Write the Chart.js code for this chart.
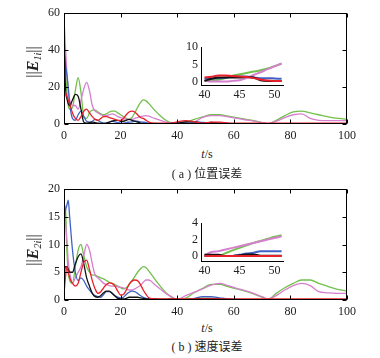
<!DOCTYPE html>
<html>
<head>
<meta charset="utf-8">
<script src="https://cdn.jsdelivr.net/npm/chart.js@4.4.0/dist/chart.umd.min.js"></script>
<style>
body { margin: 0; background: #fff; width: 380px; height: 358px; position: relative; overflow: hidden;
       font-family: "Liberation Serif", "Times New Roman", "DejaVu Serif", serif; color: #222; }
canvas { position: absolute; }
.lbl { position: absolute; white-space: nowrap; }
.ytitle { font-size: 16px; transform: translate(-50%, -50%) rotate(-90deg); }
.ytitle sub { font-size: 10px; font-style: italic; vertical-align: -3px; }
.tlabel { font-size: 12px; transform: translateX(-50%); }
.cap { font-size: 12px; transform: translateX(-50%); }
.cap span { font-family: "Noto Sans CJK SC", sans-serif; }
</style>
</head>
<body>
<canvas id="posMain" width="380" height="145" style="left:0;top:0"></canvas>
<canvas id="posInset" width="130" height="70" style="left:160px;top:37px"></canvas>
<canvas id="velMain" width="380" height="145" style="left:0;top:176px"></canvas>
<canvas id="velInset" width="130" height="70" style="left:160px;top:213px"></canvas>

<div class="lbl ytitle" style="left:33px;top:62px">||<b><i>E</i></b><sub>1i</sub>||</div>
<div class="lbl ytitle" style="left:33px;top:250px">||<b><i>E</i></b><sub>2i</sub>||</div>
<div class="lbl tlabel" style="left:207px;top:147px"><i>t</i>/s</div>
<div class="lbl tlabel" style="left:207px;top:321px"><i>t</i>/s</div>
<div class="lbl cap" style="left:207px;top:164px">( a )&nbsp;<span>位置误差</span></div>
<div class="lbl cap" style="left:207px;top:337px">( b )&nbsp;<span>速度误差</span></div>

<script>
// time grid shared by both main plots
const tMain = [0, 0.5, 1, 1.5, 2, 3, 4, 5, 6, 7, 8, 9, 10, 11, 12, 13, 14, 15, 16, 17, 18, 19, 20,
  21, 22, 23, 24, 25, 26, 27, 28, 29, 30, 32, 34, 36, 38, 40, 43, 46, 49, 52, 55, 58, 61, 64, 67,
  70, 72, 75, 78, 81, 84, 87, 90, 93, 96, 100];
const tInset = [40, 41, 42, 43, 44, 45, 46, 47, 48, 49, 50, 51];

// (a) position error
const posGreen = [46, 30, 18, 10, 8, 9, 18, 25, 17, 4, 3, 6, 7.5, 7.5, 6.5, 5.5, 5, 5.5, 6.5, 7, 7, 6, 5,
  4, 3, 2.5, 3.5, 6, 9, 11.5, 13, 12.5, 11, 7.5, 4.5, 2, 0.5, 0.3, 1, 2.5, 3.8, 5, 5, 4.2, 3.4, 2.6, 1.8,
  0.8, 0.1, 2, 4.5, 6.5, 7, 6, 5, 4, 3.2, 2.6];
const posMagenta = [57, 42, 28, 18, 13, 10, 10, 8, 13, 19, 22.5, 18, 10, 7, 6, 5, 4.5, 4.5, 5, 5.5, 5, 4, 3.5,
  3, 2.5, 2.5, 2.5, 3, 3.5, 4, 4.3, 4.5, 4.2, 3, 2, 1, 0.5, 0.2, 0.1, 1, 3.6, 4.5, 4.5, 3.8, 3, 2.3, 1.6,
  0.8, 0.2, 1.5, 3.5, 5, 5.5, 3, 2, 1.8, 1.8, 1.8];
const posBlue = [40, 32, 27, 20, 11, 3, 2, 5, 7, 4, 1.5, 1, 1.5, 2.5, 2, 1, 0.5, 0.5, 1, 1.5, 1.2, 0.8, 0.5,
  0.5, 0.8, 1, 1.2, 1.5, 1.5, 1.2, 1, 0.8, 0.5, 0.3, 0.2, 0.2, 0.3, 0.8, 1, 1.3, 0.9, 0.5, 0.3, 0.3, 0.2, 0.1, 0.1,
  0.1, 0.1, 0.1, 0.1, 0.1, 0.1, 0.1, 0.1, 0.1, 0.1, 0.1];
const posBlack = [52, 20, 14, 11, 10, 13, 16, 15, 8, 1, 0.5, 0.8, 1, 0.8, 0.5, 0.3, 0.3, 0.5, 1, 1.5, 2, 2, 1.5,
  1.5, 2, 2.5, 2, 1.5, 1, 0.5, 0.3, 0.2, 0.2, 0.2, 0.2, 0.2, 0.3, 0.3, 1.2, 1.2, 0.3, 0.8, 0.5, 0.3, 0.1, 0, 0,
  0, 0, 0, 0, 0, 0, 0, 0, 0, 0, 0];
const posRed = [19, 17, 15, 13, 11, 6, 3, 2, 4, 7, 8, 6, 4, 2.5, 2, 3, 4, 4, 3.5, 3, 2.5, 2, 2,
  3, 5, 6.5, 7, 6.5, 5, 3.5, 3, 2, 1, 0.4, 0.4, 0.4, 0.5, 1.2, 1.8, 1.3, 0.5, 1, 1, 0.5, 0.4, 0.4, 0.4,
  0.4, 0.4, 0.4, 0.4, 0.4, 0.4, 0.4, 0.4, 0.4, 0.4, 0.4];

const posGreenIn = [0.2, 0.3, 0.5, 1.0, 1.7, 2.1, 2.5, 2.9, 3.3, 3.8, 4.5, 5.2];
const posMagentaIn = [0.3, 0, 0, 0, 0.2, 0.4, 1.0, 1.9, 2.7, 3.6, 4.4, 5.3];
const posBlueIn = [0.8, 1.0, 1.0, 1.1, 1.5, 1.5, 1.5, 1.2, 1.0, 1.0, 0.9, 0.8];
const posBlackIn = [0.2, 0.8, 1.2, 1.2, 1.2, 1.2, 1.3, 1.2, 0.4, 0.2, 0.2, 0.2];
const posRedIn = [1.2, 1.4, 1.8, 1.8, 1.6, 1.5, 1.3, 1.0, 0.6, 0.3, 0.2, 0.2];

// (b) velocity error
const velGreen = [12, 17, 9, 5, 3.5, 3, 6, 9, 10, 8, 6, 5, 4.5, 4.5, 4.2, 4, 3.8, 3.5, 3.2, 3, 2.8, 2.5, 2.2,
  2, 2.2, 2.8, 3.5, 4.2, 5, 5.6, 6, 5.8, 5.2, 3.8, 2.5, 1.3, 0.5, 0.1, 0.35, 1.3, 2.1, 2.8, 2.8, 2.4, 2, 1.6, 1.1,
  0.5, 0.1, 1.2, 2.2, 3, 3.6, 3.6, 3, 2.5, 2, 1.6];
const velMagenta = [15, 14, 11, 7, 5, 3, 4, 5, 6, 8, 10, 9, 6.5, 4.5, 4, 3.5, 3, 2.8, 2.6, 2.5, 2.5, 2.4, 2.3,
  2.2, 2, 1.8, 1.8, 2, 2.3, 2.6, 3.2, 3.6, 3.6, 2.8, 2, 1.2, 0.6, 0.1, 0.8, 1.4, 2.0, 2.7, 3, 2.6, 2.1, 1.7, 1.2,
  0.6, 0.2, 0.8, 1.8, 2.6, 3, 2.6, 1.5, 1.3, 1.2, 1.2];
const velBlue = [13, 16, 17, 18, 15, 9, 5, 3.5, 4, 3.5, 2.5, 1.8, 1.2, 0.8, 0.6, 0.5, 1, 1.5, 1.5, 1.2, 0.8, 0.5, 0.4,
  0.5, 1, 1.4, 1.6, 1.5, 1.2, 0.8, 0.5, 0.3, 0.2, 0.2, 0.1, 0.1, 0.1, 0.1, 0.1, 0.3, 0.6, 0.6, 0.4, 0.2, 0.1, 0.05, 0.05,
  0.05, 0.05, 0.05, 0.05, 0.05, 0.05, 0.05, 0.05, 0.05, 0.05, 0.05];
const velBlack = [4.5, 6, 6, 5.5, 5, 5, 6.5, 7.8, 8.3, 6.5, 4, 2.5, 1.2, 0.6, 0.5, 0.8, 1.3, 1.6, 1.6, 1.2, 0.7, 0.3, 0.2,
  0.2, 0.3, 0.5, 0.5, 0.5, 0.5, 0.4, 0.3, 0.2, 0.2, 0.2, 0.1, 0.1, 0.2, 0.1, 0.05, 0.2, 0.3, 0.3, 0.2, 0.1, 0.05, 0.05, 0.05,
  0.05, 0.05, 0.05, 0.05, 0.05, 0.05, 0.05, 0.05, 0.05, 0.05, 0.05];
const velRed = [1, 4, 6, 5, 4, 3, 2.5, 3, 5, 6.8, 7.2, 5.5, 3.5, 2, 1.2, 1.5, 2.2, 2.8, 3.1, 3, 2.5, 1.6, 0.9,
  1, 1.8, 2.8, 3.4, 3.6, 3.5, 2.8, 1.8, 1, 0.4, 0.2, 0.2, 0.2, 0.2, 0.2, 0.2, 0.2, 0.2, 0.2, 0.2, 0.2, 0.2, 0.2, 0.2,
  0.2, 0.2, 0.2, 0.2, 0.2, 0.2, 0.2, 0.2, 0.2, 0.2, 0.2];

const velGreenIn = [0, 0, 0, 0.35, 0.7, 1.0, 1.3, 1.6, 1.85, 2.1, 2.35, 2.55];
const velMagentaIn = [0.1, 0.5, 0.6, 0.8, 1.0, 1.2, 1.4, 1.6, 1.8, 2.0, 2.2, 2.4];
const velBlueIn = [0, 0, 0, 0, 0, 0.15, 0.3, 0.4, 0.6, 0.6, 0.6, 0.6];
const velBlackIn = [0.15, 0.15, 0.15, 0, 0, 0.1, 0.2, 0.2, 0.05, 0.05, 0.05, 0.05];
const velRedIn = [0, 0, 0, 0, 0, 0, 0, 0, 0, 0, 0, 0];

// tick labels
const xTicksMain = [0, 20, 40, 60, 80, 100];
const yTicksPos = [0, 20, 40, 60];
const yTicksVel = [0, 5, 10, 15, 20];
const xTicksInset = [40, 45, 50];
const yTicksPosIn = [0, 5, 10];
const yTicksVelIn = [0, 2, 4];

const colors = { red: '#e8202a', black: '#111111', blue: '#3f62c6', magenta: '#d77fcf', green: '#72c04c' };
const tickFont = { family: '"Liberation Serif", "Times New Roman", serif', size: 12 };

function makeSets(ts, list, width) {
  // first dataset is drawn on top, so red goes first
  return list.map(([vals, col]) => ({
    data: vals.map((v, i) => ({ x: ts[i], y: v })),
    borderColor: col,
    borderWidth: width,
    pointRadius: 0,
    cubicInterpolationMode: 'monotone',
    fill: false
  }));
}

function fixTicks(values) {
  return (scale) => { scale.ticks = values.map(v => ({ value: v })); };
}

// box with inward tick marks, Matlab style
const framePlugin = {
  id: 'frame',
  afterDraw(chart) {
    const { ctx, chartArea: a, scales } = chart;
    const L = Math.round(a.left) + 0.5, R = Math.round(a.right) - 0.5;
    const T = Math.round(a.top) + 0.5, B = Math.round(a.bottom) - 0.5;
    ctx.save();
    ctx.strokeStyle = '#000';
    ctx.lineWidth = 1;
    ctx.strokeRect(L, T, R - L, B - T);
    ctx.beginPath();
    scales.x.ticks.forEach(t => {
      const p = Math.round(scales.x.getPixelForValue(t.value)) + 0.5;
      ctx.moveTo(p, B); ctx.lineTo(p, B - 4);
      ctx.moveTo(p, T); ctx.lineTo(p, T + 4);
    });
    scales.y.ticks.forEach(t => {
      const p = Math.round(scales.y.getPixelForValue(t.value)) + 0.5;
      ctx.moveTo(L, p); ctx.lineTo(L + 4, p);
      ctx.moveTo(R, p); ctx.lineTo(R - 4, p);
    });
    ctx.stroke();
    ctx.restore();
  }
};

function mainChart(id, sets, yMax, yTicks) {
  new Chart(document.getElementById(id), {
    type: 'line',
    data: { datasets: sets },
    options: {
      responsive: false,
      animation: false,
      devicePixelRatio: 1,
      layout: { padding: { top: 13, right: 33, left: 0, bottom: 0 } },
      plugins: { legend: { display: false }, tooltip: { enabled: false } },
      scales: {
        x: {
          type: 'linear', min: 0, max: 100,
          grid: { display: false, drawTicks: false },
          border: { display: false },
          afterBuildTicks: fixTicks(xTicksMain),
          afterFit: (s) => { s.height = 21; },
          ticks: { font: tickFont, color: '#222', padding: 5, maxRotation: 0 }
        },
        y: {
          min: 0, max: yMax,
          grid: { display: false, drawTicks: false },
          border: { display: false },
          afterBuildTicks: fixTicks(yTicks),
          afterFit: (s) => { s.width = 64; },
          ticks: { font: tickFont, color: '#222', padding: 4 }
        }
      }
    },
    plugins: [framePlugin]
  });
}

function insetChart(id, sets, yMin, yMax, yTicks) {
  new Chart(document.getElementById(id), {
    type: 'line',
    data: { datasets: sets },
    options: {
      responsive: false,
      animation: false,
      devicePixelRatio: 1,
      layout: { padding: { top: 10, right: 7, left: 0, bottom: 0 } },
      plugins: { legend: { display: false }, tooltip: { enabled: false } },
      scales: {
        x: {
          type: 'linear', min: 39.5, max: 51.2,
          grid: { display: false, drawTicks: false },
          border: { display: true, color: '#000', width: 1 },
          afterBuildTicks: fixTicks(xTicksInset),
          afterFit: (s) => { s.height = 22; },
          ticks: { font: tickFont, color: '#222', padding: 3, maxRotation: 0 }
        },
        y: {
          min: yMin, max: yMax,
          grid: { display: false, drawTicks: false },
          border: { display: true, color: '#000', width: 1 },
          afterBuildTicks: fixTicks(yTicks),
          afterFit: (s) => { s.width = 41; },
          ticks: { font: tickFont, color: '#222', padding: 3 }
        }
      }
    }
  });
}

mainChart('posMain', makeSets(tMain, [
  [posRed, colors.red], [posBlack, colors.black], [posBlue, colors.blue],
  [posMagenta, colors.magenta], [posGreen, colors.green]], 1.3), 60, yTicksPos);

insetChart('posInset', makeSets(tInset, [
  [posRedIn, colors.red], [posBlackIn, colors.black], [posBlueIn, colors.blue],
  [posMagentaIn, colors.magenta], [posGreenIn, colors.green]], 2), -1, 10, yTicksPosIn);

mainChart('velMain', makeSets(tMain, [
  [velRed, colors.red], [velBlack, colors.black], [velBlue, colors.blue],
  [velMagenta, colors.magenta], [velGreen, colors.green]], 1.3), 20, yTicksVel);

insetChart('velInset', makeSets(tInset, [
  [velRedIn, colors.red], [velBlackIn, colors.black], [velBlueIn, colors.blue],
  [velMagentaIn, colors.magenta], [velGreenIn, colors.green]], 2), -0.6, 4, yTicksVelIn);
</script>
</body>
</html>
